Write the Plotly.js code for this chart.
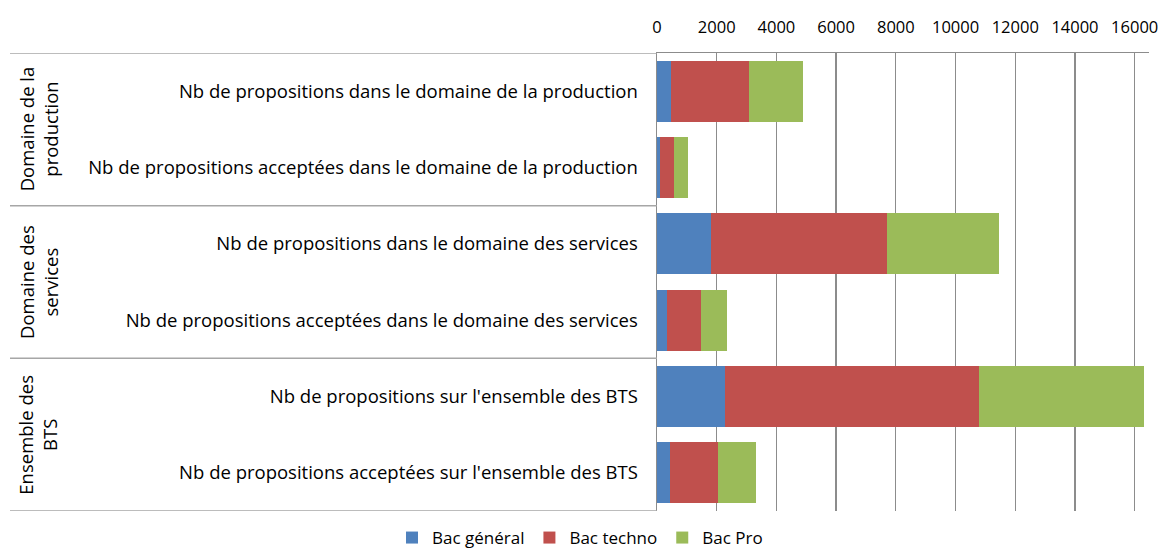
<!DOCTYPE html>
<html>
<head>
<meta charset="utf-8">
<script src="https://cdn.plot.ly/plotly-3.0.1.min.js"></script>
<style>html,body{margin:0;padding:0;background:#fff;}#chart{width:1168px;height:550px;}</style>
</head>
<body>
<div id="chart"></div>
<script>
var categories = [
  "Nb de propositions dans le domaine de la production",
  "Nb de propositions acceptées dans le domaine de la production",
  "Nb de propositions dans le domaine des services",
  "Nb de propositions acceptées dans le domaine des services",
  "Nb de propositions sur l'ensemble des BTS",
  "Nb de propositions acceptées sur l'ensemble des BTS"
];
var groups = ["Domaine de la<br>production", "Domaine des<br>services", "Ensemble des<br>BTS"];
var seriesNames = ["Bac général", "Bac techno", "Bac Pro"];
var bacGeneral = [480, 100, 1820, 345, 2290, 450];
var bacTechno  = [2610, 470, 5880, 1130, 8500, 1580];
var bacPro     = [1785, 455, 3750, 870, 5520, 1300];
var xTicks = [0, 2000, 4000, 6000, 8000, 10000, 12000, 14000, 16000];

var colors = ["#4F81BD", "#C0504D", "#9BBB59"];
var seriesVals = [bacGeneral, bacTechno, bacPro];
var font = "Open Sans, sans-serif";

var traces = seriesVals.map(function(v, i){
  return {
    type: "bar", orientation: "h",
    y: categories, x: v, name: seriesNames[i],
    marker: {color: colors[i], line: {width: 0}},
    hoverinfo: "x+name"
  };
});

var plotLeft = 657, plotW = 492, plotTop = 53, plotH = 458;
function px2paper(px){ return (px - plotLeft) / plotW; }

var shapes = [-0.5, 1.5, 3.5, 5.5].map(function(yv){
  return {type: "line", xref: "paper", yref: "y", x0: px2paper(10), x1: 0, y0: yv, y1: yv,
          line: {color: "#a6a6a6", width: 1.5}};
});

var annotations = groups.map(function(g, i){
  return {xref: "paper", yref: "y", x: px2paper(38), xanchor: "center", yanchor: "middle",
          y: i*2 + 0.5, text: g, showarrow: false,
          textangle: -90, font: {family: font, size: 18.5, color: "#000"}, align: "center"};
});

var layout = {
  width: 1168, height: 550,
  margin: {l: plotLeft, r: 1168 - plotLeft - plotW, t: plotTop, b: 550 - plotTop - plotH, autoexpand: false},
  barmode: "stack", bargap: 0.2,
  paper_bgcolor: "#fff", plot_bgcolor: "#fff",
  font: {family: font, size: 17, color: "#000"},
  xaxis: {
    side: "top", range: [0, 16480], tickvals: xTicks, ticktext: xTicks.map(String),
    showgrid: true, gridcolor: "#8c8c8c", gridwidth: 1.3,
    showline: true, linecolor: "#8c8c8c", linewidth: 1.5, mirror: false,
    zeroline: false, ticks: "", ticklabelstandoff: 12, automargin: false,
    tickfont: {family: font, size: 16.5, color: "#000"}, fixedrange: true
  },
  yaxis: {
    type: "category", autorange: false, range: [5.5, -0.5],
    showline: true, linecolor: "#8c8c8c", linewidth: 1.5, automargin: false,
    showgrid: false, zeroline: false, ticks: "", ticklabelstandoff: 14,
    tickfont: {family: font, size: 18.5, color: "#000"}, fixedrange: true
  },
  showlegend: true,
  legend: {orientation: "h", xref: "paper", x: px2paper(580), xanchor: "center",
           yref: "paper", y: -27 / plotH, yanchor: "middle",
           font: {family: font, size: 17, color: "#000"},
           traceorder: "normal", itemwidth: 30},
  shapes: shapes,
  annotations: annotations
};

Plotly.newPlot("chart", traces, layout, {displayModeBar: false, staticPlot: true});
</script>
</body>
</html>
